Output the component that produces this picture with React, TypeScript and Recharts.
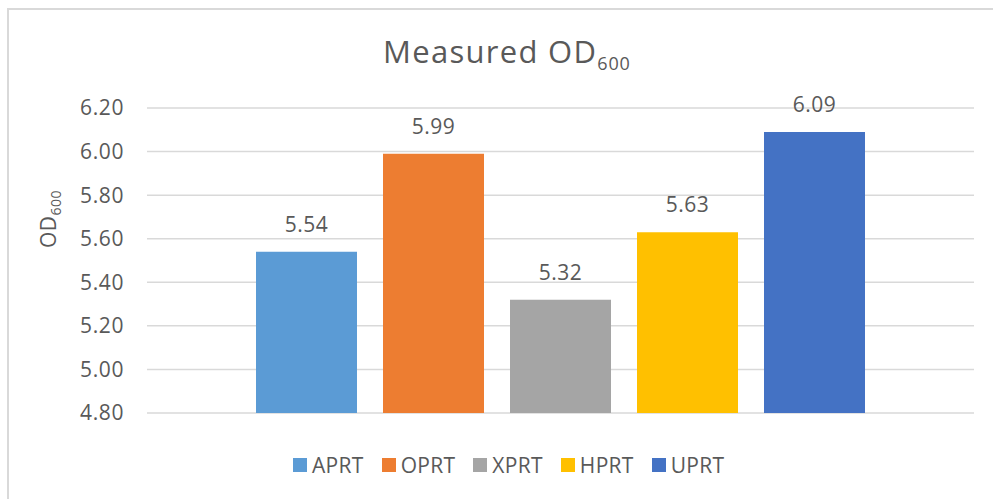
import React from 'react';
import { BarChart, Bar, XAxis, YAxis, CartesianGrid, Legend, LabelList, Customized } from 'recharts';

const categories = [''];
const seriesNames = ['APRT', 'OPRT', 'XPRT', 'HPRT', 'UPRT'];
const seriesValues = [5.54, 5.99, 5.32, 5.63, 6.09];
const seriesColors = ['#5B9BD5', '#ED7D31', '#A5A5A5', '#FFC000', '#4472C4'];
const yTicks = [4.8, 5.0, 5.2, 5.4, 5.6, 5.8, 6.0, 6.2];

const data = categories.map((c) => {
  const row: Record<string, any> = { name: c };
  seriesNames.forEach((s, i) => {
    row[s] = seriesValues[i];
  });
  return row;
});

const FONT = '"Open Sans", sans-serif';
const TEXT = '#595959';

const Title = () => (
  <text x={383} y={63} fill={TEXT} fontFamily={FONT} fontSize={31} letterSpacing={1.3}>
    Measured OD
    <tspan fontSize={18} dy={7} letterSpacing={0.8}>600</tspan>
  </text>
);

const YLabel = () => (
  <text
    x={56}
    y={219}
    fill={TEXT}
    fontFamily={FONT}
    fontSize={21}
    textAnchor="middle"
    letterSpacing={0.5}
    transform="rotate(-90, 56, 219)"
  >
    OD
    <tspan fontSize={14} dy={5}>600</tspan>
  </text>
);

const LegendContent = () => (
  <div style={{ display: 'flex', alignItems: 'center', fontFamily: FONT, fontSize: 21, letterSpacing: 0.3, color: TEXT }}>
    {seriesNames.map((s, i) => (
      <div key={s} style={{ display: 'flex', alignItems: 'center', marginRight: 18 }}>
        <span style={{ display: 'inline-block', width: 14, height: 14, background: seriesColors[i], marginRight: 5 }} />
        <span style={{ lineHeight: '20px' }}>{s}</span>
      </div>
    ))}
  </div>
);

export default function App() {
  return (
    <div style={{ position: 'absolute', left: 0, top: 0, width: 993, height: 499, overflow: 'hidden', background: '#fff' }}>
      <div
        style={{
          position: 'absolute',
          left: 7,
          top: 8,
          width: 1100,
          height: 600,
          borderLeft: '2px solid #d9d9d9',
          borderTop: '2px solid #d9d9d9',
        }}
      />
      <div style={{ position: 'absolute', left: 0, top: 0 }}>
        <BarChart
          width={993}
          height={499}
          data={data}
          margin={{ top: 108, right: 19, bottom: 86, left: 0 }}
          barSize={101}
          barGap={26}
        >
          <CartesianGrid vertical={false} stroke="#d9d9d9" strokeWidth={1.5} />
          <XAxis dataKey="name" height={0} tick={false} tickLine={false} axisLine={{ stroke: '#d9d9d9', strokeWidth: 1.5 }} />
          <YAxis
            width={147}
            domain={[4.8, 6.2]}
            ticks={yTicks}
            interval={0}
            axisLine={false}
            tickLine={false}
            tickSize={0}
            tickMargin={23}
            tickFormatter={(v: number) => v.toFixed(2)}
            tick={{ fill: TEXT, fontSize: 21, fontFamily: FONT, letterSpacing: 0.6 }}
          />
          <Legend
            layout="horizontal"
            verticalAlign="middle"
            align="center"
            content={<LegendContent />}
            wrapperStyle={{ top: 455, left: 293, width: 520, height: 20 }}
          />
          {seriesNames.map((s, i) => (
            <Bar key={s} dataKey={s} fill={seriesColors[i]} isAnimationActive={false}>
              <LabelList
                dataKey={s}
                position="top"
                offset={20}
                fill={TEXT}
                fontSize={21}
                fontFamily={FONT}
                letterSpacing={0.5}
                formatter={(v: number) => v.toFixed(2)}
              />
            </Bar>
          ))}
          <Customized component={Title} />
          <Customized component={YLabel} />
        </BarChart>
      </div>
    </div>
  );
}
